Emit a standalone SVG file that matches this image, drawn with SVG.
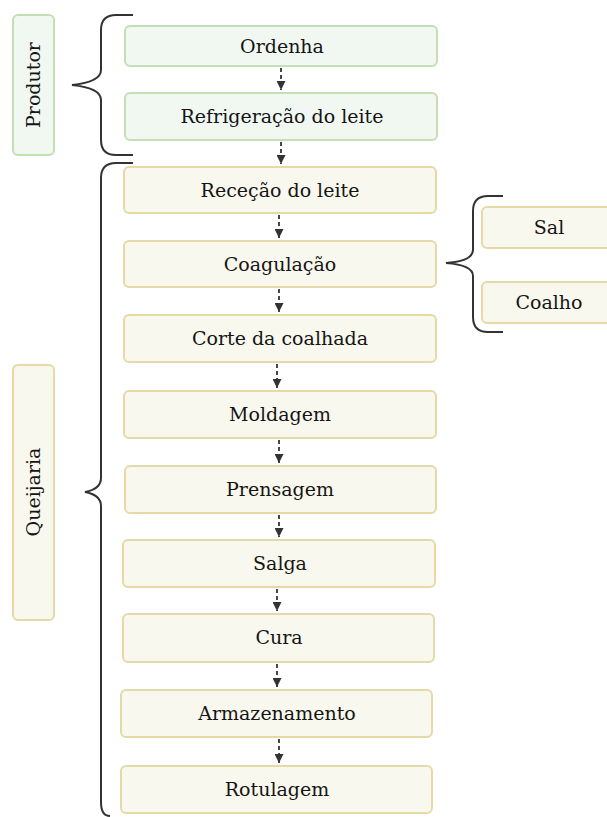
<svg xmlns="http://www.w3.org/2000/svg" width="607" height="817" viewBox="0 0 607 817">
<style>
.g{fill:#f1f8f2;stroke:#c2dfb6;stroke-width:2}
.y{fill:#f9f8ee;stroke:#e6d9a8;stroke-width:2}
text{font-family:"DejaVu Serif","Liberation Serif",serif;font-size:19px;fill:#151515;text-anchor:middle;dominant-baseline:central}
.br{fill:none;stroke:#333;stroke-width:2}
.c{stroke:#333;stroke-width:1.8;stroke-dasharray:4 3;fill:none}
</style>
<defs>
<marker id="ah" markerWidth="9" markerHeight="9" refX="9" refY="4.5" orient="auto" markerUnits="userSpaceOnUse" viewBox="0 0 9 9">
<path d="M0,0 L9,4.5 L0,9 Z" fill="#333"/>
</marker>
</defs>
<g id="produtor"><rect class="g" x="13" y="15" width="41" height="140" rx="5"/><text transform="translate(33,85) rotate(-90)">Produtor</text></g>
<g id="queijaria"><rect class="y" x="13" y="365" width="41" height="255" rx="5"/><text transform="translate(33,492) rotate(-90)">Queijaria</text></g>
<g id="braces">
<path class="br" d="M133,15 H116 Q101,15 101,30 V70 Q101,82 72,85 Q101,88 101,100 V140 Q101,155 116,155 H133"/>
<path class="br" d="M133,163 H116 Q101,163 101,178 V478 Q101,489 85,492 Q101,495 101,506 V802 Q101,816 110,816"/>
<path class="br" d="M503,196 H488 Q473,196 473,211 V250 Q473,261 446,263 Q473,265 473,276 V317 Q473,332 488,332 H503"/>
</g>
<g id="ordenha"><rect class="g" x="125" y="26" width="312" height="40" rx="5"/><text x="282" y="46">Ordenha</text></g>
<g id="refrigeracao"><rect class="g" x="125" y="93" width="312" height="47" rx="5"/><text x="282" y="116">Refrigeração do leite</text></g>
<g id="rececao"><rect class="y" x="124" y="167" width="312" height="46" rx="5"/><text x="280" y="190">Receção do leite</text></g>
<g id="coagulacao"><rect class="y" x="124" y="241" width="312" height="46" rx="5"/><text x="280" y="264">Coagulação</text></g>
<g id="corte"><rect class="y" x="124" y="315" width="312" height="47" rx="5"/><text x="280" y="338">Corte da coalhada</text></g>
<g id="moldagem"><rect class="y" x="124" y="391" width="312" height="47" rx="5"/><text x="280" y="414">Moldagem</text></g>
<g id="prensagem"><rect class="y" x="125" y="466" width="311" height="47" rx="5"/><text x="280" y="489">Prensagem</text></g>
<g id="salga"><rect class="y" x="123" y="540" width="312" height="47" rx="5"/><text x="280" y="563">Salga</text></g>
<g id="cura"><rect class="y" x="123" y="614" width="311" height="48" rx="5"/><text x="279" y="637">Cura</text></g>
<g id="armazenamento"><rect class="y" x="121" y="690" width="311" height="47" rx="5"/><text x="277" y="713">Armazenamento</text></g>
<g id="rotulagem"><rect class="y" x="121" y="766" width="311" height="47" rx="5"/><text x="277" y="789">Rotulagem</text></g>
<g id="sal"><rect class="y" x="482" y="207" width="140" height="41" rx="5"/><text x="549" y="227">Sal</text></g>
<g id="coalho"><rect class="y" x="482" y="282" width="140" height="41" rx="5"/><text x="549" y="302">Coalho</text></g>
<g id="connectors">
<path class="c" d="M281,68 V90" marker-end="url(#ah)"/>
<path class="c" d="M281,142 V164" marker-end="url(#ah)"/>
<path class="c" d="M279,215 V238" marker-end="url(#ah)"/>
<path class="c" d="M279,289 V312" marker-end="url(#ah)"/>
<path class="c" d="M277,364 V388" marker-end="url(#ah)"/>
<path class="c" d="M279,440 V463" marker-end="url(#ah)"/>
<path class="c" d="M279,515 V537" marker-end="url(#ah)"/>
<path class="c" d="M277,589 V611" marker-end="url(#ah)"/>
<path class="c" d="M277,664 V687" marker-end="url(#ah)"/>
<path class="c" d="M279,739 V763" marker-end="url(#ah)"/>
</g>
</svg>
